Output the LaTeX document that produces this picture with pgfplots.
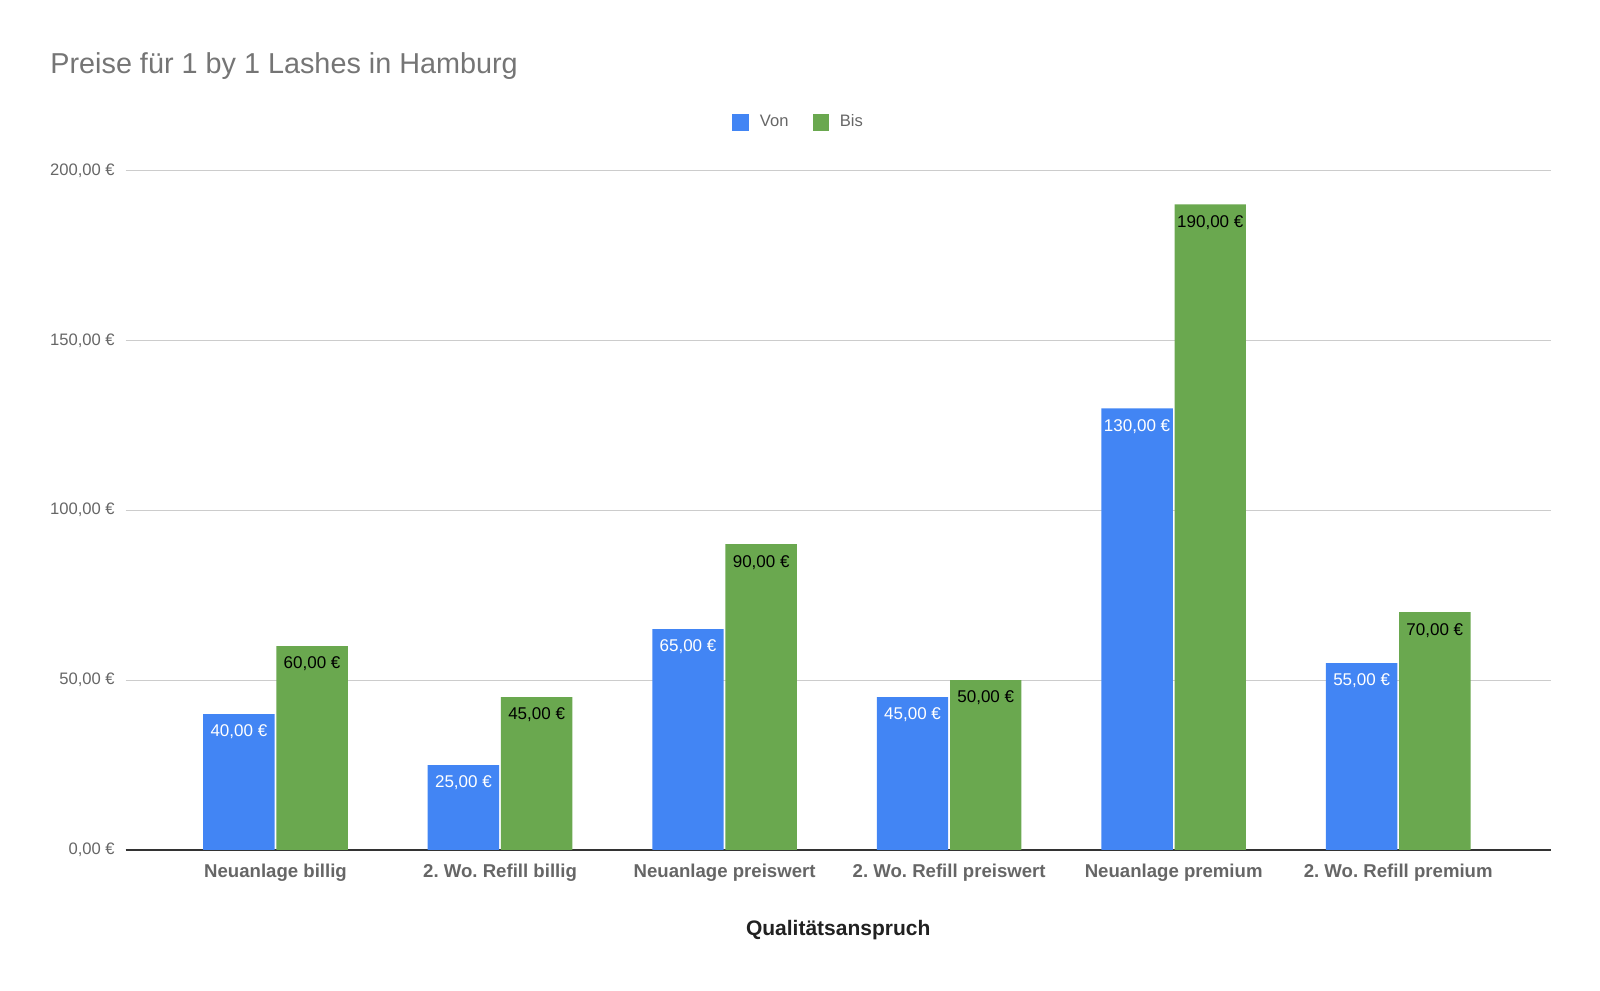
\documentclass[border=0pt]{standalone}
\usepackage{pgfplots}
\pgfplotsset{compat=1.18}
\usepackage{fontspec}
\setmainfont{Liberation Sans}
\frenchspacing
\definecolor{gblue}{HTML}{4285F4}
\definecolor{ggreen}{HTML}{6AA84F}
\definecolor{tickgray}{HTML}{666666}
\definecolor{titlegray}{HTML}{757575}
\definecolor{gridgray}{HTML}{CCCCCC}
\definecolor{axisdark}{HTML}{333333}
\begin{document}
\begin{tikzpicture}
\path[use as bounding box] (0,0) rectangle (800pt,495pt);
\begin{axis}[
  at={(62.75pt,70pt)}, anchor=south west,
  scale only axis, width=712.7pt, height=339.8pt,
  ybar,
  xmin=-0.668, xmax=5.68, ymin=0, ymax=200,
  ytick={0,50,100,150,200},
  xtick={0,1,2,3,4,5},
  xticklabels={Neuanlage billig, 2. Wo. Refill billig, Neuanlage preiswert, 2. Wo. Refill preiswert, Neuanlage premium, 2. Wo. Refill premium},
  /pgf/number format/assume math mode=true,
  yticklabel={\pgfmathprintnumber[fixed,fixed zerofill,precision=2,use comma,1000 sep={}]{\tick} €},
  yticklabel style={font=\fontsize{8.3pt}{10pt}\selectfont, text=tickgray, inner sep=0pt, anchor=east, xshift=-5.2pt},
  xticklabel style={font=\fontsize{9.3pt}{11pt}\selectfont\bfseries, text=tickgray, inner sep=0pt, anchor=north, yshift=-2.5pt},
  axis lines*=left,
  y axis line style={draw=none},
  x axis line style={draw=axisdark, line width=0.75pt},
  tick style={draw=none},
  ymajorgrids, grid style={gridgray, line width=0.5pt},
  xlabel={Qualitätsanspruch},
  xlabel style={font=\fontsize{10.5pt}{12pt}\selectfont\bfseries, text=black!87, at={(axis description cs:0.5,0)}, anchor=center, yshift=-40pt},
  title={Preise für 1 by 1 Lashes in Hamburg},
  title style={font=\fontsize{14.4pt}{17pt}\selectfont, text=titlegray, at={(axis description cs:0,1)}, anchor=west, xshift=-37.75pt, yshift=46pt, inner sep=0pt},
  legend columns=2,
  legend style={at={(axis description cs:0.473,1.0736)}, anchor=center, yshift=-1pt, draw=none, fill=none, font=\fontsize{8.3pt}{10pt}\selectfont, text=tickgray, /tikz/every even column/.append style={column sep=10pt}},
  legend image code/.code={\fill[#1] (0pt,-4.1pt) rectangle (8.2pt,4.1pt); \path (11.7pt,0pt);},
  bar width=0.318,
  nodes near coords={\pgfmathprintnumber[fixed,fixed zerofill,precision=2,use comma,1000 sep={}]{\pgfplotspointmeta} €},
  every node near coord/.append style={font=\fontsize{8.5pt}{10pt}\selectfont, anchor=north, inner sep=0pt, yshift=-5.3pt},
]
\addplot[fill=gblue, draw=none, bar shift=-0.163, every node near coord/.append style={text=white}] coordinates {(0,40) (1,25) (2,65) (3,45) (4,130) (5,55)};
\addlegendentry{Von}
\addplot[fill=ggreen, draw=none, bar shift=0.163, every node near coord/.append style={text=black}] coordinates {(0,60) (1,45) (2,90) (3,50) (4,190) (5,70)};
\addlegendentry{Bis}
\end{axis}
\end{tikzpicture}
\end{document}
